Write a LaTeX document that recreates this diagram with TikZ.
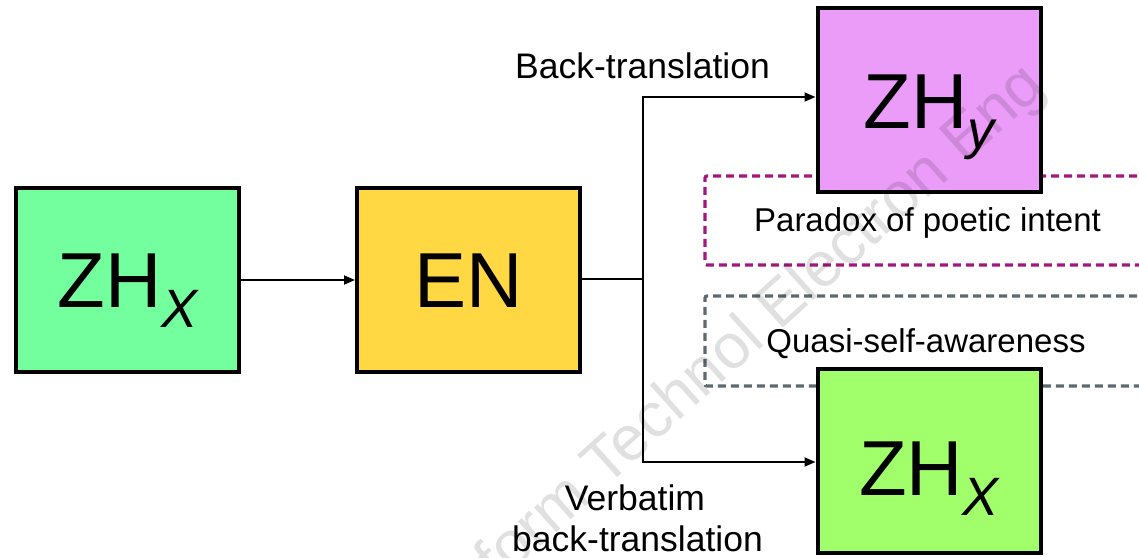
\documentclass[tikz,border=0pt]{standalone}
\usepackage{fontspec}
\setmainfont{Liberation Sans}
\usetikzlibrary{arrows.meta}
\definecolor{zhxfill}{RGB}{116,255,158}
\definecolor{enfill}{RGB}{255,216,67}
\definecolor{zhyfill}{RGB}{235,155,248}
\definecolor{zhxbfill}{RGB}{160,255,106}
\definecolor{purpdash}{RGB}{162,24,126}
\definecolor{graydash}{RGB}{92,106,112}
\newcommand{\zhsub}[1]{\raisebox{-20pt}{\fontsize{54}{54}\selectfont\itshape #1}}
\begin{document}
\begin{tikzpicture}[x=1pt,y=-1pt,
  box/.style={draw=black,line width=4pt,minimum width=223pt,minimum height=184pt,
    inner sep=0pt,text height=57pt,text depth=3pt,font=\fontsize{78}{78}\selectfont},
  conn/.style={line width=1.8pt},
  arr/.style={conn,-{Triangle[length=11pt,width=9pt]}},
  lab/.style={font=\fontsize{35.5}{40}\selectfont,anchor=base,inner sep=0pt},
  dlab/.style={font=\fontsize{33}{38}\selectfont,anchor=base,inner sep=0pt},
  dbox/.style={line width=3.2pt,dash pattern=on 8pt off 5pt,rounded corners=2pt},
  wm/.style={font=\fontsize{63}{63}\selectfont,text=black,opacity=0.12,rotate=42,anchor=base,inner sep=0pt}
]
\useasboundingbox (0,0) rectangle (1139,557);
\clip (0,0) rectangle (1139,557);

% dashed regions (behind the boxes)
\coordinate (pA) at (1150,176);
\coordinate (pB) at (705,176);
\coordinate (pC) at (705,265);
\coordinate (pD) at (1150,265);
\draw[dbox,purpdash] (pA) -- (pB) -- (pC) -- (pD);
\coordinate (gA) at (1150,296);
\coordinate (gB) at (705,296);
\coordinate (gC) at (705,386);
\coordinate (gD) at (1150,386);
\draw[dbox,graydash] (gA) -- (gB) -- (gC) -- (gD);

% boxes
\node[box,fill=zhxfill] (zhx) at (127.5,280) {ZH\zhsub{X}};
\node[box,fill=enfill] (en) at (468.5,280) {EN};
\node[box,fill=zhyfill,text depth=0pt] (zhy) at (929,100) {ZH\zhsub{y}};
\node[box,fill=zhxbfill,text height=69pt,text depth=0pt] (zhxb) at (929,460.5) {ZH\zhsub{X}};

% connectors
\draw[arr] (zhx) -- (en);
\coordinate (split) at (643,279);
\draw[conn] (en.east |- split) -- (split);
\draw[arr] (split) |- ([yshift=3pt]zhy.west);
\draw[arr] (split) |- ([yshift=-1.5pt]zhxb.west);

% labels
\node[lab] (lbt) at (642.5,78) {Back-translation};
\node[dlab] (lpar) at (927.5,231) {Paradox of poetic intent};
\node[dlab] (lqua) at (926,352) {Quasi-self-awareness};
\node[lab] (lverb) at (635,510) {Verbatim};
\node[lab] (lvbt) at (637.5,551) {back-translation};

% watermark
\node[wm] (wmark) at (773,337) {form Technol Electron Eng};
\end{tikzpicture}
\end{document}
